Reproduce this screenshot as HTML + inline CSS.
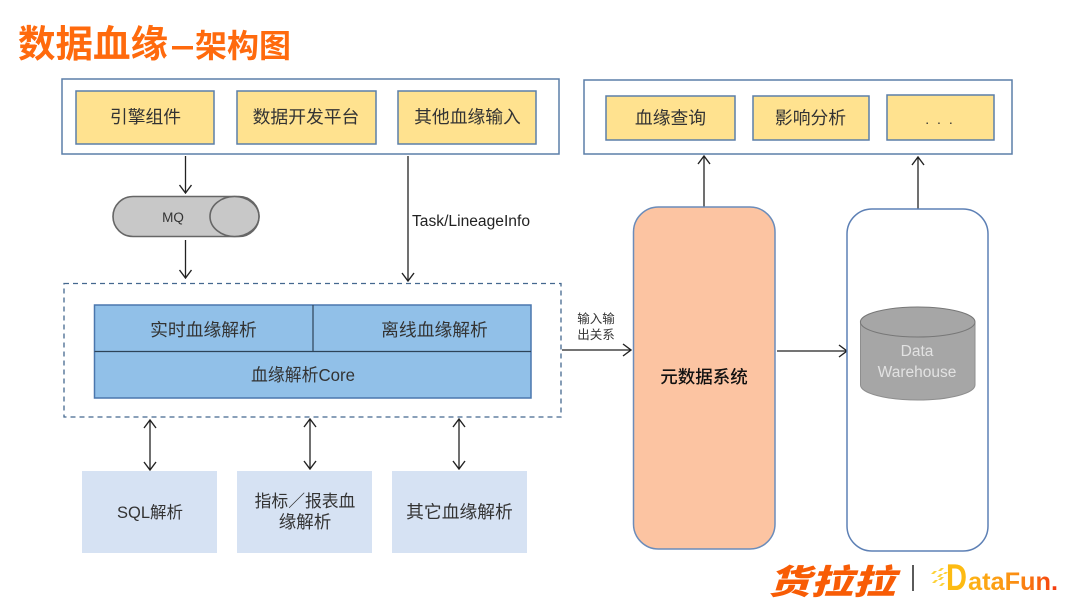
<!DOCTYPE html>
<html><head><meta charset="utf-8">
<style>
html,body{margin:0;padding:0;background:#fff;width:1080px;height:608px;overflow:hidden}
svg{display:block}
text{font-family:"Liberation Sans","Noto Sans CJK SC",sans-serif;fill:#333}
.t{font-size:17.800px;text-anchor:middle}
</style></head><body>
<svg width="1080" height="608" viewBox="0 0 1080 608" xmlns="http://www.w3.org/2000/svg">
<defs>
<marker id="a" viewBox="0 0 10 14" refX="9" refY="7" markerWidth="10" markerHeight="14" markerUnits="userSpaceOnUse" orient="auto-start-reverse"><path d="M1 1L9 7L1 13" fill="none" stroke="#222" stroke-width="1.4"/></marker>
<linearGradient id="g" x1="0" x2="1" y1="0" y2="0" gradientUnits="objectBoundingBox"><stop offset="0" stop-color="#fdb515"/><stop offset="0.55" stop-color="#fb8c12"/><stop offset="1" stop-color="#f4380f"/></linearGradient>
</defs>
<!-- title -->
<text x="18" y="57" style="font-size:37.500px;font-weight:700;fill:#ff6a0d">数据血缘</text>
<rect x="172" y="46" width="21" height="3.500" fill="#ff6a0d"/>
<text x="195" y="57" style="font-size:32px;font-weight:700;fill:#ff6a0d">架构图</text>

<!-- top boxes -->
<g stroke="#5b7fa8" stroke-width="1.500">
<rect x="62" y="79" width="497" height="75" fill="#fff"/>
<rect x="584" y="80" width="428" height="74" fill="#fff"/>
<g fill="#ffe28f">
<rect x="76" y="91" width="138" height="53"/>
<rect x="237" y="91" width="139" height="53"/>
<rect x="398" y="91" width="138" height="53"/>
<rect x="606" y="96" width="129" height="44"/>
<rect x="753" y="96" width="116" height="44"/>
<rect x="887" y="95" width="107" height="45"/>
</g></g>
<text class="t" x="145.500" y="123">引擎组件</text>
<text class="t" x="306" y="123">数据开发平台</text>
<text class="t" x="467.500" y="123">其他血缘输入</text>
<text class="t" x="670.500" y="124">血缘查询</text>
<text class="t" x="810.500" y="124">影响分析</text>
<text class="t" x="940" y="124" style="font-size:14px;letter-spacing:2px">. . .</text>

<!-- arrows -->
<g stroke="#222" stroke-width="1.300" fill="none">
<path d="M185.500 156V193" marker-end="url(#a)"/>
<path d="M185.500 240V278" marker-end="url(#a)"/>
<path d="M408 156V281" marker-end="url(#a)"/>
<path d="M150 420V470" marker-start="url(#a)" marker-end="url(#a)"/>
<path d="M310 419V469" marker-start="url(#a)" marker-end="url(#a)"/>
<path d="M459 419V469" marker-start="url(#a)" marker-end="url(#a)"/>
<path d="M562 350H631" marker-end="url(#a)"/>
<path d="M777 351H847" marker-end="url(#a)"/>
<path d="M704 207V156" marker-end="url(#a)"/>
<path d="M918 209V157" marker-end="url(#a)"/>
</g>

<!-- MQ -->
<rect x="113" y="196.500" width="146" height="40" rx="20" fill="#c8c8c8" stroke="#666" stroke-width="1.600"/>
<ellipse cx="234.500" cy="216.500" rx="24.500" ry="20" fill="#c8c8c8" stroke="#666" stroke-width="1.600"/>
<text x="173" y="222" style="font-size:13.500px;text-anchor:middle">MQ</text>
<text x="412" y="226" textLength="118" lengthAdjust="spacingAndGlyphs" style="font-size:15.500px;fill:#222">Task/LineageInfo</text>

<!-- dashed -->
<rect x="64" y="283.500" width="497" height="133.500" fill="none" stroke="#44688f" stroke-width="1.300" stroke-dasharray="5 4"/>

<!-- blue -->
<rect x="94.500" y="305" width="436.500" height="93" fill="#91c0e8" stroke="#4a77ad" stroke-width="1.500"/>
<path d="M94.500 351.500H531M313 305V351" stroke="#2d4358" stroke-width="1.200" fill="none"/>
<text class="t" x="203.500" y="336">实时血缘解析</text>
<text class="t" x="434.500" y="336">离线血缘解析</text>
<text class="t" x="303" y="381" style="font-size:17.500px" textLength="104" lengthAdjust="spacingAndGlyphs">血缘解析Core</text>

<!-- bottom -->
<g fill="#d6e2f3">
<rect x="82" y="471" width="135" height="82"/>
<rect x="237" y="471" width="135" height="82"/>
<rect x="392" y="471" width="135" height="82"/>
</g>
<text class="t" x="150" y="518" style="font-size:16.500px">SQL解析</text>
<text class="t" x="305" y="507" style="font-size:16.800px">指标／报表血</text>
<text class="t" x="305" y="528" style="font-size:17.500px">缘解析</text>
<text class="t" x="459.500" y="518">其它血缘解析</text>

<!-- io label -->
<text x="596" y="323" style="font-size:12.500px;text-anchor:middle">输入输</text>
<text x="596" y="339" style="font-size:12.500px;text-anchor:middle">出关系</text>

<!-- meta -->
<rect x="633.500" y="207" width="141.500" height="342" rx="25" fill="#fcc4a2" stroke="#6b8cba" stroke-width="1.500"/>
<text x="704" y="383" style="font-size:17.500px;text-anchor:middle;fill:#111;font-weight:500">元数据系统</text>
<rect x="847" y="209" width="141" height="342" rx="25" fill="#fff" stroke="#5d80b5" stroke-width="1.500"/>

<!-- cylinder -->
<path d="M860.500 322V385A57 15 0 0 0 975 385V322Z" fill="#a6a6a6" stroke="#8e8e8e"/>
<ellipse cx="917.700" cy="322" rx="57.300" ry="15" fill="#a6a6a6" stroke="#777"/>
<text x="917" y="356" style="font-size:15.500px;text-anchor:middle;fill:#e2e2e2">Data</text>
<text x="917" y="377" style="font-size:15.500px;text-anchor:middle;fill:#e2e2e2">Warehouse</text>

<!-- logos -->
<text x="768" y="594" textLength="127" lengthAdjust="spacingAndGlyphs" style="font-size:34px;font-weight:900;font-style:italic;fill:#f85c05">货拉拉</text>
<path d="M913 565V591" stroke="#222" stroke-width="1.500"/>
<g fill="#fdd23a">
<path d="M931 574l3-3h3l-3 3zM938 571l3-3h3l-3 3zM937 577l3-3h3l-3 3zM943 574l2-2h3l-2 2zM932 583l3-3h3l-3 3zM939 586l3-3h3l-3 3zM938 580l3-3h3l-3 3z"/>
</g>
<text x="946" y="590" textLength="21" lengthAdjust="spacingAndGlyphs" style="font-size:37px;font-weight:700;fill:#fdbb12">D</text>
<text x="968" y="590" textLength="90" lengthAdjust="spacingAndGlyphs" style="font-size:25px;font-weight:700;fill:url(#g)">ataFun.</text>
</svg>
</body></html>
